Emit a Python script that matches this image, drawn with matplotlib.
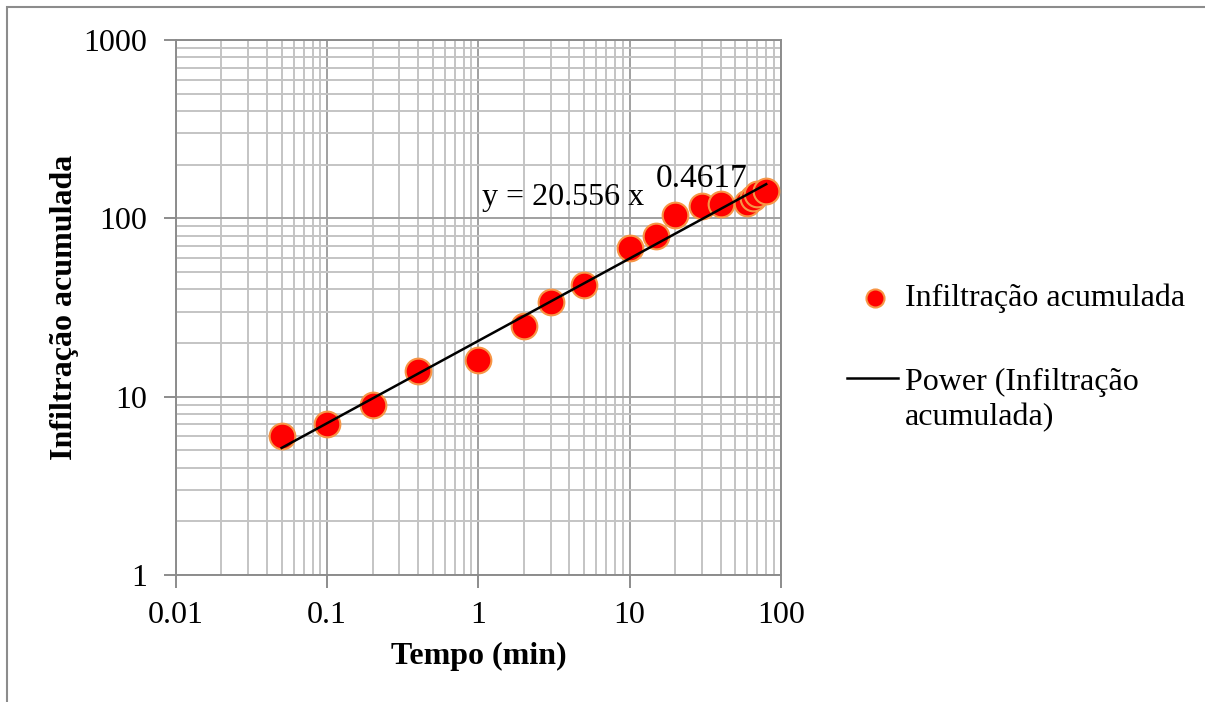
import numpy as np
import matplotlib.pyplot as plt
from matplotlib.patches import Rectangle
from matplotlib.lines import Line2D

plt.rcParams['font.family'] = ['Liberation Serif', 'DejaVu Serif']

# data
tempo = [0.05, 0.1, 0.2, 0.4, 1, 2, 3, 5, 10, 15, 20, 30, 40, 60, 65, 70, 80]
infiltracao = [6, 7, 9, 14, 16, 25, 34, 42, 68, 80, 105, 117, 120, 122, 130, 137, 143]
coef_a = 20.556
coef_b = 0.4617

FS = 23
fig = plt.figure(figsize=(12.05, 7.02), dpi=100)
ax = fig.add_axes([0.146, 0.181, 0.502, 0.762])

# outer border of the chart area
fig.patches.append(Rectangle((0.006, -0.05), 1.1, 1.04, transform=fig.transFigure,
                             fill=False, edgecolor='#8c8c8c', linewidth=1.5))

ax.set_xscale('log')
ax.set_yscale('log')
ax.set_xlim(0.01, 100)
ax.set_ylim(1, 1000)

ax.grid(True, which='major', color='#a0a0a0', linewidth=1.4)
ax.grid(True, which='minor', color='#c4c4c4', linewidth=1.4)
ax.set_axisbelow(True)
for s in ax.spines.values():
    s.set_color('#8c8c8c')
    s.set_linewidth(1.4)
ax.tick_params(which='major', length=9, width=1.4, color='#8c8c8c', labelsize=FS)
ax.tick_params(axis='x', pad=10)
ax.tick_params(axis='y', pad=12)
ax.tick_params(which='minor', length=0)
ax.set_xticks([0.01, 0.1, 1, 10, 100])
ax.set_xticklabels(['0.01', '0.1', '1', '10', '100'])
ax.set_yticks([1, 10, 100, 1000])
ax.set_yticklabels(['1', '10', '100', '1000'])

ax.plot(tempo, infiltracao, 'o', color='#ff0000', markeredgecolor='#f79646',
        markeredgewidth=1.5, markersize=18.5, zorder=3)

xf = np.array([tempo[0], tempo[-1]])
ax.plot(xf, coef_a * xf ** coef_b, color='black', linewidth=1.8, zorder=4)

# trendline equation
ax.text(1.05, 119, 'y = %.3f x' % coef_a, fontsize=FS, va='baseline')
ax.text(14.8, 150, '%.4f' % coef_b, fontsize=FS + 1, va='baseline')

ax.set_xlabel('Tempo (min)', fontsize=FS, fontweight='bold', labelpad=8)
ax.set_ylabel('Infiltração acumulada', fontsize=FS, fontweight='bold', labelpad=3)

# legend
fig.add_artist(Line2D([0.726], [1 - 298 / 702], marker='o', color='#ff0000',
                      markeredgecolor='#f79646', markeredgewidth=1.5, markersize=13,
                      transform=fig.transFigure))
fig.text(0.751, 1 - 298 / 702, 'Infiltração acumulada', fontsize=FS, va='center')
fig.add_artist(Line2D([847 / 1205, 898 / 1205], [1 - 378 / 702] * 2, color='black',
                      linewidth=1.8, transform=fig.transFigure))
fig.text(0.751, 1 - 400 / 702, 'Power (Infiltração\nacumulada)', fontsize=FS,
         va='center', linespacing=1.25)

fig.savefig('out.png', dpi=100)
